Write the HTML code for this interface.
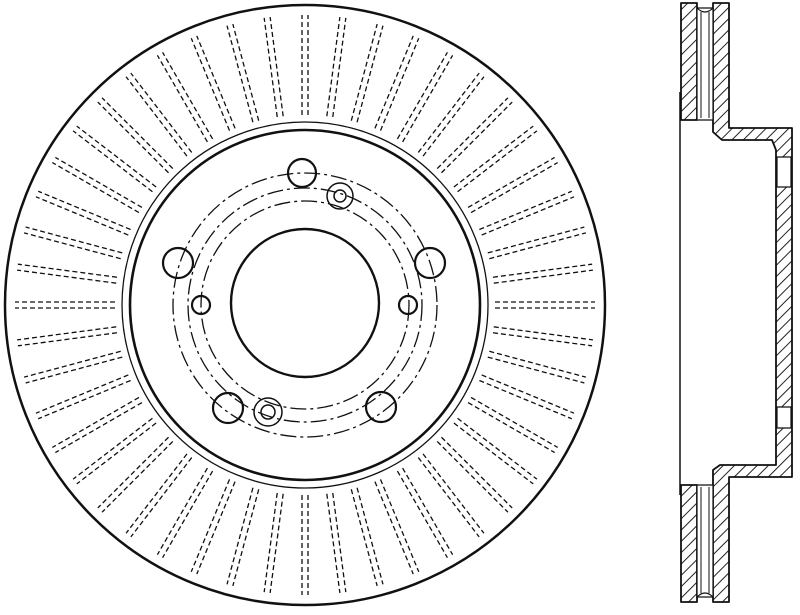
<!DOCTYPE html>
<html><head><meta charset="utf-8"><style>
html,body{margin:0;padding:0;background:#fff;width:800px;height:615px;overflow:hidden}
</style></head><body>
<svg id="s" width="800" height="615" viewBox="0 0 800 615" xmlns="http://www.w3.org/2000/svg">
<defs>
<pattern id="h" patternUnits="userSpaceOnUse" width="8" height="8" patternTransform="rotate(45)">
<rect width="8" height="8" fill="#fff"/><line x1="0" y1="0" x2="0" y2="8" stroke="#222" stroke-width="2"/>
</pattern>
</defs>
<g fill="none" stroke="#111">
<circle cx="305" cy="305" r="300" stroke-width="2.5"/>
<circle cx="305" cy="305" r="183" stroke-width="1.3"/>
<circle cx="305" cy="305" r="175" stroke-width="2.6"/>
<circle cx="305" cy="303" r="74" stroke-width="2.4"/>
<g stroke-width="1.3" stroke-dasharray="16 4 3 4">
<circle cx="305" cy="305" r="132"/>
<circle cx="305" cy="305" r="117"/>
<circle cx="305" cy="305" r="104"/>
</g>
<g stroke-width="2.2">
<circle cx="302" cy="173" r="14"/>
<circle cx="178" cy="263" r="15"/>
<circle cx="430" cy="263" r="15"/>
<circle cx="228" cy="408" r="15"/>
<circle cx="381" cy="407" r="15"/>
<circle cx="201" cy="305" r="9"/>
<circle cx="408" cy="305" r="9"/>
</g>
<g stroke-width="1.5">
<circle cx="340" cy="196" r="13"/><circle cx="340" cy="196" r="6"/>
<circle cx="268" cy="412" r="14"/><circle cx="268" cy="412" r="7"/>
</g>
<g id="v" stroke-width="1.3" stroke-dasharray="5 3"></g>
</g>
<g stroke="#111" stroke-width="1.8" stroke-linejoin="round">
<line x1="680" y1="92" x2="680" y2="495" stroke-width="1.5"/>
<rect x="681" y="3" width="16" height="117" fill="url(#h)"/>
<rect x="681" y="485" width="16" height="117" fill="url(#h)"/>
<path d="M713,3 H729 V128 H792 V477 H729 V602 H713 V485 L713,470 L720,465 H776 V430 H776 V150 L772,140 H722 L713,132 Z" fill="url(#h)"/>
<rect x="697" y="8" width="16" height="112" fill="#fff" stroke-width="1.2"/>
<rect x="697" y="485" width="16" height="112" fill="#fff" stroke-width="1.2"/>
<path d="M697,8 Q705,16 713,8 M697,597 Q705,589 713,597" fill="none" stroke-width="1.2"/>
<line x1="701" y1="12" x2="701" y2="118" stroke-width="1"/>
<line x1="709" y1="12" x2="709" y2="118" stroke-width="1"/>
<line x1="701" y1="487" x2="701" y2="593" stroke-width="1"/>
<line x1="709" y1="487" x2="709" y2="593" stroke-width="1"/>
<rect x="777" y="157" width="14" height="30" fill="#fff" stroke-width="1.2"/>
<rect x="777" y="407" width="14" height="21" fill="#fff" stroke-width="1.2"/>
</g>
</svg>
<script>
var g=document.getElementById('v'),cx=305,cy=305,ns='http://www.w3.org/2000/svg';
for(var k=0;k<48;k++){var a=k*7.5*Math.PI/180,c=Math.cos(a),s=Math.sin(a);
[-3,3].forEach(function(o){var l=document.createElementNS(ns,'line');
var px=-s*o,py=c*o;
l.setAttribute('x1',cx+c*190+px);l.setAttribute('y1',cy+s*190+py);
l.setAttribute('x2',cx+c*290+px);l.setAttribute('y2',cy+s*290+py);g.appendChild(l);});}
</script>
</body></html>
